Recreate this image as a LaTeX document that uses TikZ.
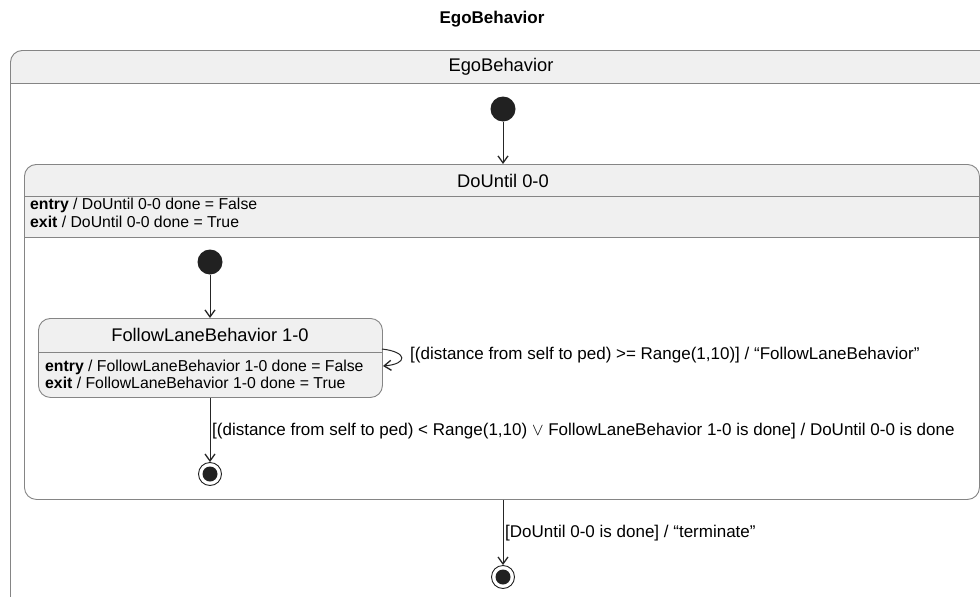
\documentclass[tikz,border=0pt]{standalone}
\usepackage{fontspec}
\setmainfont{Liberation Sans}
\usetikzlibrary{arrows.meta}
\begin{document}
\begin{tikzpicture}[x=1pt,y=-1pt,
  frame/.style={draw=black!48, line width=0.9pt},
  hdr/.style={fill=black!6},
  box/.style={frame, rounded corners=12pt, inner sep=0pt, anchor=north west},
  txt/.style={inner sep=0pt, font=\fontsize{18.3}{20}\selectfont},
  ent/.style={inner sep=0pt, anchor=west, font=\fontsize{15.8}{17}\selectfont},
  lbl/.style={inner sep=0pt, anchor=west, font=\fontsize{17}{19}\selectfont},
  conn/.style={draw=black!85, line width=1pt, -{Straight Barb[length=7pt,width=10pt,line width=1.3pt]}},
  initst/.style={circle, fill=black!87, minimum size=25pt, inner sep=0pt},
  finalst/.style={circle, draw=black!87, line width=0.9pt, fill=white, minimum size=23pt, inner sep=0pt,
     path picture={\fill[black!87] (path picture bounding box.center) circle (7.5pt);}},
]
\useasboundingbox (0,0) rectangle (980,597);
% title
\node[inner sep=0pt, font=\fontsize{17}{19}\selectfont\bfseries] (title) at (492,19) {EgoBehavior};
% outer state EgoBehavior
\begin{scope}
\clip[rounded corners=12pt] (10,50) rectangle (1000,620);
\fill[hdr] (10,50) rectangle (1000,83);
\end{scope}
\node[box, minimum width=990pt, minimum height=570pt] (ego) at (10,50) {};
\draw[frame] (10,83) -- (1000,83);
\node[txt] (egot) at (501,67) {EgoBehavior};
% DoUntil composite
\begin{scope}
\clip[rounded corners=12pt] (24,164) rectangle (979,499);
\fill[hdr] (24,164) rectangle (979,237);
\fill[white] (24,237) rectangle (979,499);
\end{scope}
\node[box, minimum width=955pt, minimum height=335pt] (dou) at (24,164) {};
\draw[frame] (24,196) -- (979,196);
\draw[frame] (24,237) -- (979,237);
\node[txt] (dout) at (503,181) {DoUntil 0-0};
\node[ent] (douen) at (30,205) {\textbf{entry} / DoUntil 0-0 done = False};
\node[ent] (douex) at (30,222) {\textbf{exit} / DoUntil 0-0 done = True};
% FollowLane state
\node[box, hdr, minimum width=344pt, minimum height=79pt] (flb) at (38,318) {};
\draw[frame] (38,352) -- (382,352);
\node[txt] (flbt) at (210,335) {FollowLaneBehavior 1-0};
\node[ent] (flben) at (45,367) {\textbf{entry} / FollowLaneBehavior 1-0 done = False};
\node[ent] (flbex) at (45,383) {\textbf{exit} / FollowLaneBehavior 1-0 done = True};
% pseudo states
\node[initst] (i1) at (503,109) {};
\node[initst] (i2) at (210,262) {};
\node[finalst] (f2) at (210,474) {};
\node[finalst] (f1) at (503,577) {};
% transitions
\draw[conn] (i1) -- (i1 |- dou.north);
\draw[conn] (i2) -- (i2 |- flb.north);
\draw[conn] (f2 |- flb.south) -- (f2);
\draw[conn] (f1 |- dou.south) -- (f1);
\coordinate (ls) at (382,349);
\coordinate (le) at (383,366);
\draw[conn] (ls) .. controls (408,352) and (408,364) .. (le);
\node[lbl] (l1) at (410,355) {[(distance from self to ped) >= Range(1,10)] / “FollowLaneBehavior”};
\node[lbl] (l2) at (212,431) {[(distance from self to ped) < Range(1,10) $\vee$ FollowLaneBehavior 1-0 is done] / DoUntil 0-0 is done};
\node[lbl] (l3) at (505,533) {[DoUntil 0-0 is done] / “terminate”};
\end{tikzpicture}
\end{document}
